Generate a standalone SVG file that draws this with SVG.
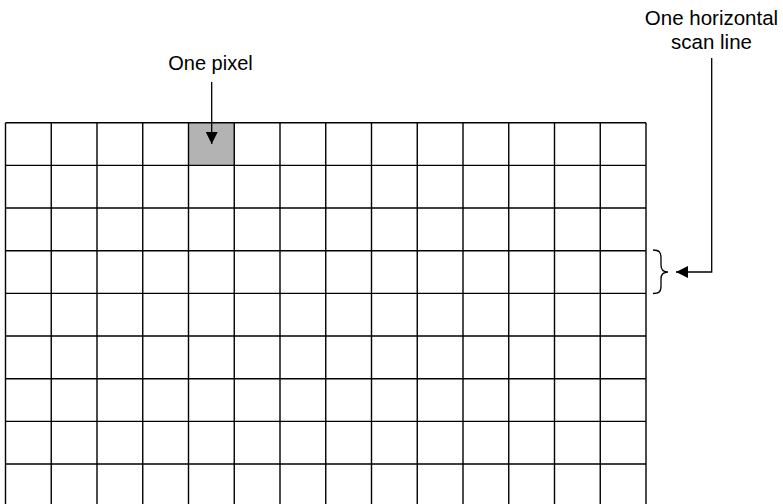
<svg xmlns="http://www.w3.org/2000/svg" width="783" height="504" viewBox="0 0 783 504">
<style>
  .g{stroke:#000;stroke-width:1.4;fill:none}
  .lbl{font-family:"Liberation Sans",Arial,sans-serif;font-size:20px;fill:#000;text-anchor:middle}
  .c{stroke:#000;stroke-width:1.3;fill:none}
</style>
<defs>
  <marker id="ah" markerWidth="12" markerHeight="12" refX="12" refY="6" orient="auto" markerUnits="userSpaceOnUse">
    <path d="M0,0 L12,6 L0,12 Z" fill="#000"/>
  </marker>
</defs>
<rect width="783" height="504" fill="#fff"/>
<g id="pixel">
  <rect x="189" y="122.7" width="45.75" height="42.67" fill="#b3b3b3"/>
</g>
<g id="grid" class="g">
  <path d="M5.5,122.7V504 M51.25,122.7V504 M97,122.7V504 M142.75,122.7V504 M188.5,122.7V504 M234.25,122.7V504 M280,122.7V504 M325.75,122.7V504 M371.5,122.7V504 M417.25,122.7V504 M463,122.7V504 M508.75,122.7V504 M554.5,122.7V504 M600.25,122.7V504 M646,122.7V504"/>
  <path d="M5.5,122.7H646 M5.5,165.4H646 M5.5,208H646 M5.5,250.7H646 M5.5,293.4H646 M5.5,336H646 M5.5,378.7H646 M5.5,421.4H646 M5.5,464H646"/>
</g>
<g id="label-pixel">
  <text class="lbl" x="210.5" y="70">One pixel</text>
</g>
<g id="label-scanline">
  <text class="lbl" x="711.5" y="25" style="font-size:20.5px">One horizontal</text>
  <text class="lbl" x="711.5" y="49.3" style="font-size:20.5px">scan line</text>
</g>
<g id="brace">
  <path class="c" d="M653,250 C659,250 661,252 661,258 L661,265 C661,270 663,272 668,272 C663,272 661,274 661,279 L661,286 C661,292 659,293.5 653,293.5"/>
</g>
<g id="connectors" class="c">
  <path d="M211.7,82 V144" marker-end="url(#ah)"/>
  <path d="M711.7,58 V272 H676" marker-end="url(#ah)"/>
</g>
</svg>
